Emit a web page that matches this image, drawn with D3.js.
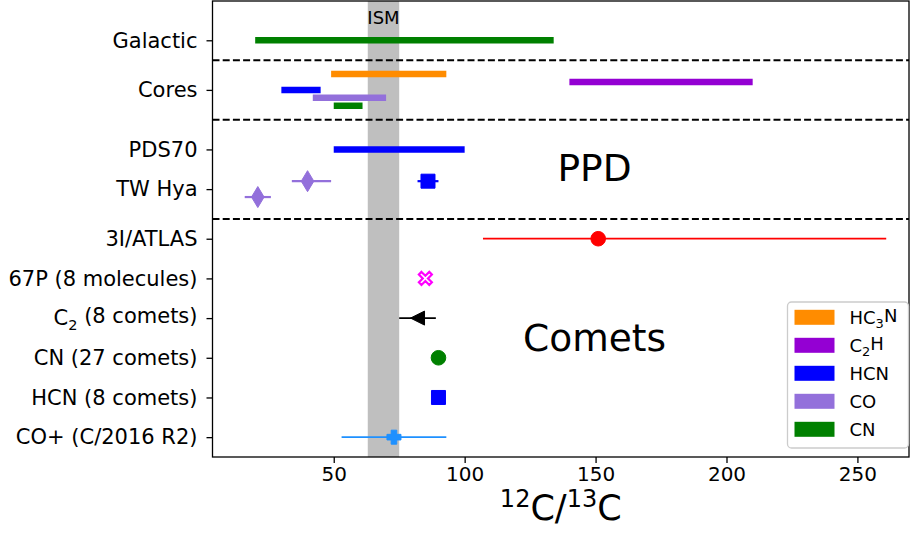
<!DOCTYPE html>
<html>
<head>
<meta charset="utf-8">
<script src="https://cdn.jsdelivr.net/npm/d3@7"></script>
<style>
  body { margin: 0; background: #fff; }
  svg { font-family: "DejaVu Sans", sans-serif; }
</style>
</head>
<body>
<svg id="chart" width="910" height="535"></svg>
<script>
// ---------- data ----------
const categories = [
  {label: "CO+ (C/2016 R2)", pos: 0},
  {label: "HCN (8 comets)", pos: 1},
  {label: "CN (27 comets)", pos: 2},
  {label: "C|2| (8 comets)", pos: 3},
  {label: "67P (8 molecules)", pos: 4},
  {label: "3I/ATLAS", pos: 5},
  {label: "TW Hya", pos: 6.25},
  {label: "PDS70", pos: 7.25},
  {label: "Cores", pos: 8.75},
  {label: "Galactic", pos: 10}
];
const separators = [5.5, 8.0, 9.5];
const ismRange = [63, 75];
const xTicks = [50, 100, 150, 200, 250];

// range bars: [molecule, y, lo, hi]
const rangeBars = [
  ["CN", 10, 20, 134],
  ["HC3N", 9.15, 49, 93],
  ["C2H", 8.95, 140, 210],
  ["HCN", 8.75, 30, 45],
  ["CO", 8.55, 42, 70],
  ["CN", 8.35, 50, 61],
  ["HCN", 7.25, 50, 100]
];

// point measurements: [series, marker, y, value, errLo, errHi]
const points = [
  ["TWHya-CO-a", "thin_diamond", 6.45, 40, 34, 49],
  ["TWHya-CO-b", "thin_diamond", 6.05, 21, 16, 26],
  ["TWHya-HCN", "square", 6.45, 86, 82, 90],
  ["3I/ATLAS", "circle", 5, 151, 107, 261],
  ["67P", "x", 4, 85, null, null],
  ["C2", "triangle_left", 3, 82, 75, 89],
  ["CN comets", "circle", 2, 90, null, null],
  ["HCN comets", "square", 1, 90, null, null],
  ["CO+", "plus", 0, 73, 53, 93]
];

const legendItems = ["HC|3|N", "C|2|H", "HCN", "CO", "CN"];
const legendKeys = ["HC3N", "C2H", "HCN", "CO", "CN"];
const molColors = {HC3N: "#ff8c00", C2H: "#9400d3", HCN: "#0000ff", CO: "#9370db", CN: "#008000"};
const pointColors = {
  "TWHya-CO-a": "#9370db", "TWHya-CO-b": "#9370db", "TWHya-HCN": "#0000ff",
  "3I/ATLAS": "#ff0000", "67P": "#ff00ff", "C2": "#000000",
  "CN comets": "#008000", "HCN comets": "#0000ff", "CO+": "#1e90ff"
};
const xLabelParts = [["12", true], ["C/", false], ["13", true], ["C", false]];

// ---------- layout ----------
const svg = d3.select("#chart");
const L = 212.5, R = 909, T = 1, B = 457;
const x = d3.scaleLinear().domain([3.7, 269.7]).range([L, R]);
const y = d3.scaleLinear().domain([-0.5, 10.99]).range([B, T]);

// helper for text with subscripts marked as |n|
function subText(sel, str, subSize) {
  const parts = str.split("|");
  parts.forEach((p, i) => {
    if (p === "") return;
    const ts = sel.append("tspan").text(p);
    if (i % 2 === 1) {
      ts.attr("font-size", subSize).attr("dy", "0.3em");
    } else if (i > 0) {
      ts.attr("dy", "-0.3em");
    }
  });
}

// ISM band
svg.append("rect")
  .attr("x", x(ismRange[0])).attr("y", T)
  .attr("width", x(ismRange[1]) - x(ismRange[0])).attr("height", B - T)
  .attr("fill", "#808080").attr("fill-opacity", 0.5);

svg.append("text").attr("x", x((ismRange[0] + ismRange[1]) / 2)).attr("y", 24)
  .attr("text-anchor", "middle").attr("font-size", 18).text("ISM");

// separators
svg.selectAll("line.sep").data(separators).join("line")
  .attr("class", "sep")
  .attr("x1", L).attr("x2", R)
  .attr("y1", d => y(d)).attr("y2", d => y(d))
  .attr("stroke", "#000").attr("stroke-width", 2)
  .attr("stroke-dasharray", "7,3.2");

// range bars
svg.selectAll("line.bar").data(rangeBars).join("line")
  .attr("class", "bar")
  .attr("x1", d => x(d[2])).attr("x2", d => x(d[3]))
  .attr("y1", d => y(d[1])).attr("y2", d => y(d[1]))
  .attr("stroke", d => molColors[d[0]]).attr("stroke-width", 6.5)
  .attr("stroke-linecap", "butt");

// error bars
const ptsErr = points.filter(d => d[4] !== null);
svg.selectAll("line.err").data(ptsErr).join("line")
  .attr("class", "err")
  .attr("x1", d => x(d[4])).attr("x2", d => x(d[5]))
  .attr("y1", d => y(d[2])).attr("y2", d => y(d[2]))
  .attr("stroke", d => pointColors[d[0]])
  .attr("stroke-width", d => d[0].startsWith("TWHya") ? 2.2 : 1.8);

// markers
function markerPath(type) {
  switch (type) {
    case "circle": return d3.symbol(d3.symbolCircle, Math.PI * 7.3 * 7.3)();
    case "square": return "M-7,-7H7V7H-7Z";
    case "thin_diamond": return "M0,-10.5L6.3,0L0,10.5L-6.3,0Z";
    case "triangle_left": return "M-8,0L6,-7L6,7Z";
    case "plus": {
      const a = 2.8, b = 7;
      return `M${-a},${-b}H${a}V${-a}H${b}V${a}H${a}V${b}H${-a}V${a}H${-b}V${-a}H${-a}Z`;
    }
    case "x": {
      const s = 6.5, w = 2.6;
      return `M${-s + w},${-s}L0,${-w}L${s - w},${-s}L${s},${-s + w}L${w},0L${s},${s - w}L${s - w},${s}L0,${w}L${-s + w},${s}L${-s},${s - w}L${-w},0L${-s},${-s + w}Z`;
    }
  }
}
svg.selectAll("path.mk").data(points).join("path")
  .attr("class", "mk")
  .attr("transform", d => {
    const tx = d[1] === "triangle_left" ? x(d[3]) + 1 : x(d[3]);
    return `translate(${tx},${y(d[2])})`;
  })
  .attr("d", d => markerPath(d[1]))
  .attr("fill", d => d[1] === "x" ? "#fff" : pointColors[d[0]])
  .attr("stroke", d => pointColors[d[0]])
  .attr("stroke-width", d => d[1] === "x" ? 2.2 : 1);

// region labels
svg.append("text").attr("x", x(149.6)).attr("y", y(6.6) + 6).attr("text-anchor", "middle")
  .attr("font-size", 37.5).text("PPD");
svg.append("text").attr("x", x(149.6)).attr("y", y(2.5) + 13).attr("text-anchor", "middle")
  .attr("font-size", 37.5).text("Comets");

// axes
const xAxis = d3.axisBottom(x).tickValues(xTicks).tickSize(6).tickPadding(4);
const gx = svg.append("g").attr("transform", `translate(0,${B})`).call(xAxis);
gx.select(".domain").remove();
gx.selectAll(".tick line").attr("stroke", "#000").attr("stroke-width", 1.3);
gx.selectAll(".tick text").attr("font-size", 20).attr("font-family", "DejaVu Sans").attr("fill", "#000");

const yAxis = d3.axisLeft(y).tickValues(categories.map(c => c.pos)).tickSize(6).tickPadding(7).tickFormat("");
const gy = svg.append("g").attr("transform", `translate(${L},0)`).call(yAxis);
gy.select(".domain").remove();
gy.selectAll(".tick line").attr("stroke", "#000").attr("stroke-width", 1.3);
gy.selectAll(".tick").each(function(v) {
  const c = categories.find(k => k.pos === v);
  const t = d3.select(this).append("text")
    .attr("x", -15).attr("dy", "0.32em").attr("text-anchor", "end")
    .attr("font-size", 21).attr("font-family", "DejaVu Sans").attr("fill", "#000");
  subText(t, c.label, 14.5);
});

// frame
svg.append("rect").attr("x", L).attr("y", T).attr("width", R - L).attr("height", B - T)
  .attr("fill", "none").attr("stroke", "#000").attr("stroke-width", 1.3);

// x label: one text, superscripts via baseline-shift
const xl = svg.append("text").attr("x", (L + R) / 2).attr("y", 520)
  .attr("text-anchor", "middle").attr("font-size", 35).attr("fill", "#000");
xLabelParts.forEach(([s, sup]) => {
  const ts = xl.append("tspan").text(s);
  if (sup) ts.attr("font-size", 24).attr("baseline-shift", "13px");
});

// legend
const lg = svg.append("g").attr("transform", "translate(787.5,302)");
lg.append("rect").attr("width", 121).attr("height", 146).attr("rx", 4)
  .attr("fill", "#fff").attr("fill-opacity", 0.8).attr("stroke", "#cccccc").attr("stroke-width", 1.3);
legendKeys.forEach((k, i) => {
  const row = lg.append("g").attr("transform", `translate(0,${15.3 + i * 28})`);
  row.append("rect").attr("x", 7).attr("y", -7.5).attr("width", 40).attr("height", 15).attr("fill", molColors[k]);
  const t = row.append("text").attr("x", 62).attr("dy", "0.35em").attr("font-size", 18).attr("fill", "#000");
  subText(t, legendItems[i], 13);
});
</script>
</body>
</html>
